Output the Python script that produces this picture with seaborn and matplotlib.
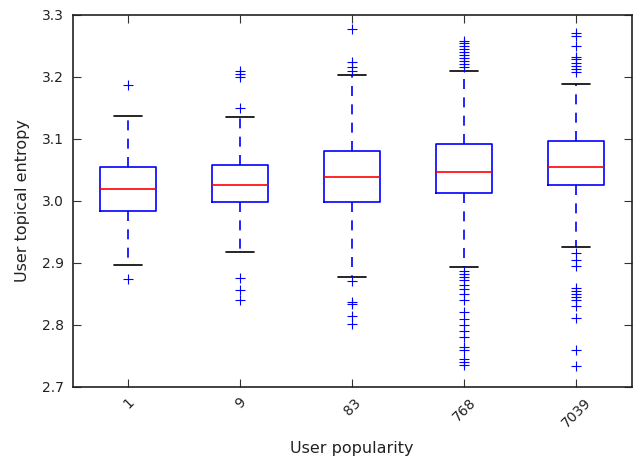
import matplotlib
matplotlib.use("Agg")
import matplotlib.pyplot as plt
import seaborn as sns

# popularity groups and the box statistics
groups = ["1", "9", "83", "768", "7039"]
q1 = [2.984, 2.998, 2.998, 3.012, 3.025]
med = [3.019, 3.025, 3.038, 3.047, 3.055]
q3 = [3.055, 3.058, 3.081, 3.092, 3.097]
whislo = [2.896, 2.918, 2.878, 2.894, 2.926]
whishi = [3.137, 3.135, 3.202, 3.210, 3.189]

fliers_1 = [3.186, 2.874]
fliers_9 = [3.150, 3.200, 3.205, 3.210, 2.875, 2.856, 2.840]
fliers_83 = [3.277, 3.223, 3.215, 3.210, 2.870, 2.837, 2.834, 2.814, 2.801]
fliers_768 = [3.258, 3.255, 3.250, 3.245, 3.240, 3.235, 3.230, 3.225, 3.220, 3.215,
              2.887, 2.882, 2.877, 2.872, 2.865, 2.858, 2.850, 2.840, 2.820,
              2.810, 2.800, 2.790, 2.780, 2.765, 2.760, 2.745, 2.740, 2.735]
fliers_7039 = [3.271, 3.265, 3.250, 3.232, 3.228, 3.222, 3.218, 3.213, 3.208,
               2.916, 2.905, 2.895, 2.860, 2.855, 2.850, 2.845, 2.840, 2.830,
               2.811, 2.759, 2.733]
fliers = [fliers_1, fliers_9, fliers_83, fliers_768, fliers_7039]

sns.set_style("ticks", {"xtick.direction": "in", "ytick.direction": "in"})
plt.rcParams["font.family"] = ["DejaVu Sans"]

stats = []
for i, g in enumerate(groups):
    stats.append({"label": g, "q1": q1[i], "med": med[i], "q3": q3[i],
                  "whislo": whislo[i], "whishi": whishi[i], "fliers": fliers[i]})

fig = plt.figure(figsize=(6.39, 4.59), dpi=100)
ax = fig.add_axes([0.1135, 0.157, 0.8755, 0.811])

ax.bxp(stats, widths=0.5,
       boxprops=dict(color="blue", linewidth=1.2),
       medianprops=dict(color="red", linewidth=1.2),
       whiskerprops=dict(color="blue", linewidth=1.2, linestyle=(0, (6, 5))),
       capprops=dict(color="black", linewidth=1.2),
       flierprops=dict(marker="+", markeredgecolor="blue", markersize=7,
                       markeredgewidth=0.8, linestyle="none"))

ax.set_ylim(2.7, 3.3)
ax.set_xlim(0.5, 5.5)
ax.set_yticks([2.7, 2.8, 2.9, 3.0, 3.1, 3.2, 3.3])
ax.set_yticklabels(["2.7", "2.8", "2.9", "3.0", "3.1", "3.2", "3.3"])
ax.tick_params(axis="both", which="both", top=True, right=True, length=5.5,
               width=0.8, labelsize=10, pad=6, colors="#333333", labelcolor="#222222")
plt.setp(ax.get_xticklabels(), rotation=45)
for s in ax.spines.values():
    s.set_linewidth(1.2)
    s.set_color("#222222")

ax.set_xlabel("User popularity", fontsize=11.5, labelpad=8, color="#222222")
ax.set_ylabel("User topical entropy", fontsize=11.5, labelpad=9, color="#222222")

fig.savefig("out.png", dpi=100)
